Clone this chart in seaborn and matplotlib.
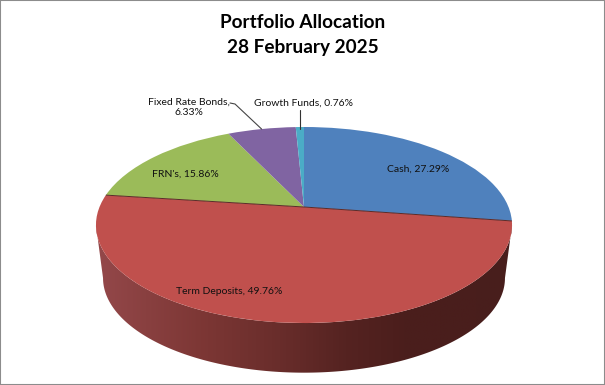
import numpy as np
import matplotlib
matplotlib.use('Agg')
import matplotlib.pyplot as plt
import seaborn as sns
from matplotlib.colors import LinearSegmentedColormap
from matplotlib.patches import Polygon
from matplotlib.transforms import Transform

# Chart data
names = ['Cash', 'Term Deposits', "FRN's", 'Fixed Rate Bonds', 'Growth Funds']
values = [27.29, 49.76, 15.86, 6.33, 0.76]
colors = ['#4F81BD', '#C0504D', '#9BBB59', '#8064A2', '#4BACC6']

# Perspective of the 3D pie, in pixels
apex_x, apex_y = 304, 207
half_w, half_h = 204.5, 94.7
tilt = 0.1837
# Bottom rim is the top rim shrunk and moved down
top_mid_y, bottom_mid_y = 225, 278
shrink = 0.966

side_stops = [(0.0, '#94484a'), (0.25, '#7d3735'), (0.44, '#692d2b'),
              (0.6, '#552321'), (0.74, '#4b1e1c'), (1.0, '#481e1c')]


class PieView(Transform):
    input_dims = 2
    output_dims = 2

    def transform_non_affine(self, xy):
        xy = np.asarray(xy, dtype=float)
        w = 1 + tilt * xy[:, 1]
        return np.column_stack([apex_x + half_w * xy[:, 0] / w,
                                apex_y - half_h * xy[:, 1] / w])


view = PieView()


def rim(angles):
    # angles are clockwise from 12 o'clock
    return view.transform_non_affine(np.column_stack([np.sin(angles), np.cos(angles)]))


def lower_rim(angles):
    p = rim(angles)
    return np.column_stack([apex_x + (p[:, 0] - apex_x) * shrink,
                            bottom_mid_y + (p[:, 1] - top_mid_y) * shrink])


sns.set_style('white')
plt.rcParams['font.family'] = ['Lato', 'DejaVu Sans']

fig = plt.figure(figsize=(6.05, 3.85), dpi=100)
ax = fig.add_axes([0, 0, 1, 1])

wedges, _ = ax.pie(values, colors=sns.color_palette(colors), startangle=90, counterclock=False)
for w in wedges:
    w.set_transform(view + ax.transData)
    w.set_zorder(3)
    w.set_linewidth(0)

ax.set_aspect('auto')
ax.set_xlim(0, 605)
ax.set_ylim(385, 0)

# Side wall, from the right silhouette round to the left one
edge = np.arccos(-tilt)
ang = np.linspace(edge, 2 * np.pi - edge, 200)
outline = np.vstack([rim(ang), lower_rim(ang)[::-1]])
clip = Polygon(outline, closed=True, facecolor='none', edgecolor='none', transform=ax.transData)
ax.add_patch(clip)
cmap = LinearSegmentedColormap.from_list('side', side_stops)
im = ax.imshow(np.linspace(0, 1, 256).reshape(1, -1), cmap=cmap, aspect='auto',
               extent=(outline[:, 0].min(), outline[:, 0].max(), outline[:, 1].max(), outline[:, 1].min()),
               zorder=2)
im.set_clip_path(clip)
ax.set_xlim(0, 605)
ax.set_ylim(385, 0)

# Dark seams on both sides of the Term Deposits slice
cum = np.cumsum(values) / np.sum(values) * 2 * np.pi
for a in cum[:2]:
    p = rim(np.array([a]))[0]
    ax.plot([apex_x, p[0]], [apex_y, p[1]], color='#5a2a28', lw=0.7, zorder=4, solid_capstyle='butt')

# Labels
labels = [f'{n}, {v:.2f}%' for n, v in zip(names, values)]
label_size = 7.5
ax.text(418, 169, labels[0], ha='center', va='center', fontsize=label_size, color='#111111', zorder=6)
ax.text(229, 291, labels[1], ha='center', va='center', fontsize=label_size, color='#111111', zorder=6)
ax.text(185, 174, labels[2], ha='center', va='center', fontsize=label_size, color='#111111', zorder=6)
ax.text(189, 107, labels[3].replace(', ', ',\n'), ha='center', va='center', fontsize=label_size,
        color='#111111', linespacing=1.2, zorder=6)
ax.text(304, 103, labels[4], ha='center', va='center', fontsize=label_size, color='#111111', zorder=6)

# Leader lines go to the middle of the small slices
mids = (cum - np.array(values) / np.sum(values) * np.pi)
fixed_end = rim(mids[[3]])[0]
growth_end = rim(mids[[4]])[0]
ax.plot([230, 235, fixed_end[0]], [103, 104, fixed_end[1]], color='#444444', lw=0.8, zorder=5)
ax.plot([growth_end[0], growth_end[0]], [110, growth_end[1] + 2], color='#333333', lw=0.8, zorder=5)

# Title
ax.text(302.5, 23, 'Portfolio Allocation', ha='center', va='center', fontsize=13.7, fontweight='bold', color='black')
ax.text(302.5, 47, '28 February 2025', ha='center', va='center', fontsize=13.7, fontweight='bold', color='black')

# Grey border of the picture
ax.set_frame_on(True)
ax.set_xticks([])
ax.set_yticks([])
for s in ax.spines.values():
    s.set_visible(True)
    s.set_color('#8c8c8c')
    s.set_linewidth(1.5)

fig.savefig('out.png', dpi=100)
